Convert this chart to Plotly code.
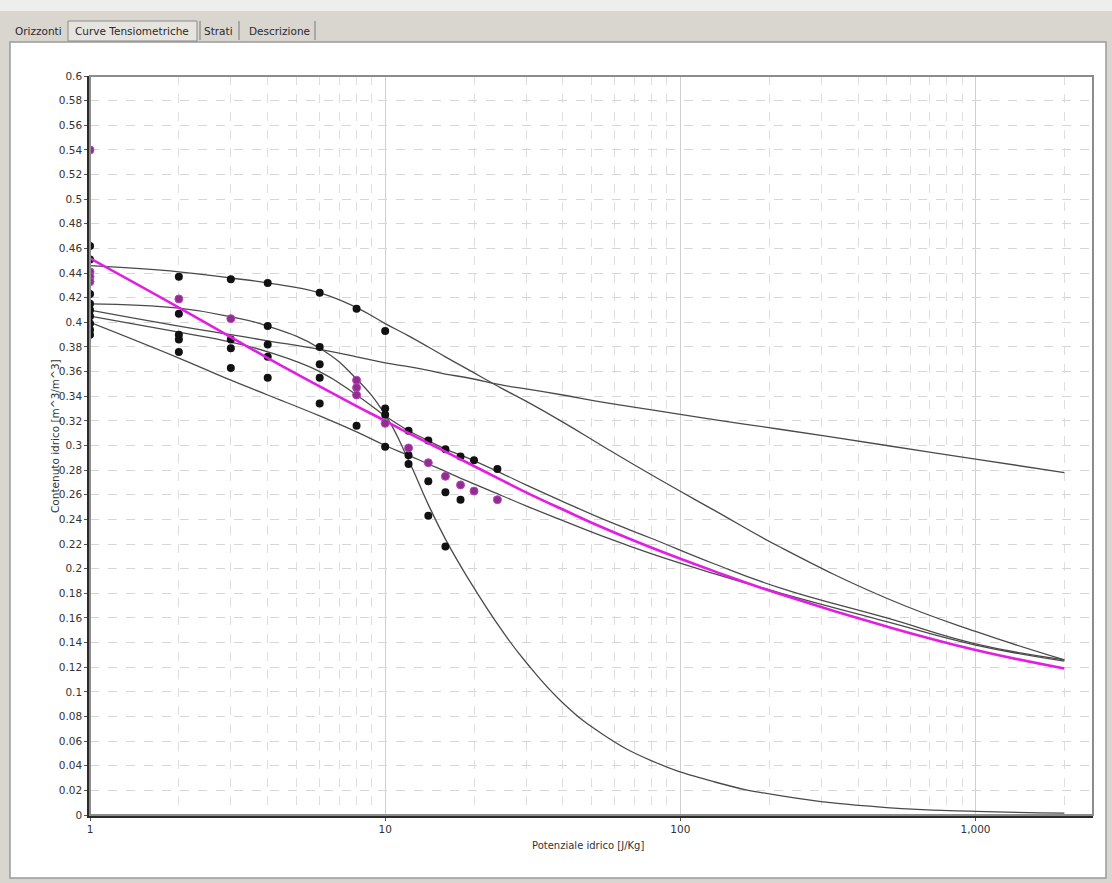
import plotly.graph_objects as go

# ---------------- data ----------------
curve_x = [1, 2, 3, 4, 6, 8, 10, 12, 14, 16, 19, 25, 30, 40, 55, 80, 130, 220, 500, 1000, 2000]
curve_a = [0.446, 0.441, 0.436, 0.432, 0.424, 0.412, 0.399, 0.389, 0.380, 0.372, 0.362, 0.346, 0.336, 0.319, 0.299, 0.276, 0.2475, 0.217, 0.176, 0.149, 0.126]
curve_b = [0.410, 0.397, 0.390, 0.385, 0.378, 0.372, 0.367, 0.364, 0.361, 0.358, 0.355, 0.349, 0.346, 0.341, 0.335, 0.329, 0.321, 0.313, 0.300, 0.289, 0.278]
curve_c = [0.415, 0.4115, 0.4045, 0.397, 0.379, 0.354, 0.325, 0.288, 0.252, 0.224, 0.193, 0.149, 0.124, 0.091, 0.065, 0.044, 0.027, 0.0155, 0.006, 0.003, 0.0015]
curve_d = [0.400, 0.371, 0.353, 0.341, 0.324, 0.311, 0.300, 0.292, 0.285, 0.279, 0.271, 0.259, 0.251, 0.239, 0.226, 0.212, 0.196, 0.180, 0.157, 0.138, 0.125]
curve_e = [0.405, 0.392, 0.384, 0.376, 0.360, 0.341, 0.324, 0.312, 0.304, 0.297, 0.290, 0.277, 0.268, 0.2545, 0.240, 0.2245, 0.204, 0.184, 0.160, 0.139, 0.126]
curve_m = [0.452, 0.412, 0.388, 0.371, 0.348, 0.332, 0.320, 0.310, 0.302, 0.295, 0.286, 0.2715, 0.262, 0.248, 0.233, 0.217, 0.198, 0.179, 0.153, 0.134, 0.119]

black_x = [1, 1, 1, 1, 1, 1, 1, 1, 1,
           2, 2, 2, 2, 2,
           3, 3, 3, 3,
           4, 4, 4, 4, 4,
           6, 6, 6, 6, 6,
           8, 8,
           10, 10, 10, 10,
           12, 12, 12,
           14, 14, 14,
           16, 16, 16,
           18, 18,
           20, 24]
black_y = [0.462, 0.451, 0.423, 0.415, 0.410, 0.405, 0.399, 0.394, 0.390,
           0.437, 0.407, 0.390, 0.386, 0.376,
           0.435, 0.386, 0.379, 0.363,
           0.432, 0.397, 0.382, 0.372, 0.355,
           0.424, 0.380, 0.366, 0.355, 0.334,
           0.411, 0.316,
           0.393, 0.330, 0.325, 0.299,
           0.312, 0.292, 0.285,
           0.304, 0.271, 0.243,
           0.297, 0.262, 0.218,
           0.291, 0.256,
           0.288, 0.281]

purple_x = [1, 1, 1, 1, 2, 3, 8, 8, 8, 10, 12, 14, 16, 18, 20, 24]
purple_y = [0.540, 0.441, 0.437, 0.433, 0.419, 0.403, 0.353, 0.347, 0.341, 0.318, 0.298, 0.286, 0.275, 0.268, 0.263, 0.256]

y_ticks = [0, 0.02, 0.04, 0.06, 0.08, 0.1, 0.12, 0.14, 0.16, 0.18, 0.2, 0.22, 0.24, 0.26, 0.28,
           0.3, 0.32, 0.34, 0.36, 0.38, 0.4, 0.42, 0.44, 0.46, 0.48, 0.5, 0.52, 0.54, 0.56, 0.58, 0.6]
y_tick_text = ["0", "0.02", "0.04", "0.06", "0.08", "0.1", "0.12", "0.14", "0.16", "0.18", "0.2", "0.22",
               "0.24", "0.26", "0.28", "0.3", "0.32", "0.34", "0.36", "0.38", "0.4", "0.42", "0.44",
               "0.46", "0.48", "0.5", "0.52", "0.54", "0.56", "0.58", "0.6"]
x_ticks = [1, 10, 100, 1000]
x_tick_text = ["1", "10", "100", "1,000"]
x_minor = [m * d for d in (1, 10, 100, 1000) for m in (2, 3, 4, 5, 6, 7, 8, 9)]

tabs = ["Orizzonti", "Curve Tensiometriche", "Strati", "Descrizione"]

# ---------------- layout geometry (pixels) ----------------
W, H = 1112, 883
L, R, T, B = 90, 1093, 76, 815


def px(x):
    return (x - L) / (R - L)


def py(y):
    return (B - y) / (B - T)


FONT = "DejaVu Sans"

fig = go.Figure()

for cy in (curve_a, curve_b, curve_c, curve_d, curve_e):
    fig.add_trace(go.Scatter(x=curve_x, y=cy, mode="lines",
                             line=dict(color="#4a4a4a", width=1.3, shape="spline", smoothing=1.3),
                             hoverinfo="skip", showlegend=False))

fig.add_trace(go.Scatter(x=black_x, y=black_y, mode="markers",
                         marker=dict(color="#111111", size=8, line=dict(width=0)),
                         showlegend=False))

fig.add_trace(go.Scatter(x=curve_x, y=curve_m, mode="lines",
                         line=dict(color="#e11ee1", width=2.6, shape="spline", smoothing=1.3),
                         hoverinfo="skip", showlegend=False))

fig.add_trace(go.Scatter(x=purple_x, y=purple_y, mode="markers",
                         marker=dict(color="#8e2f8e", size=8, line=dict(width=1, color="#c040c0")),
                         showlegend=False))

shapes = []
# top window strip
shapes.append(dict(type="rect", xref="paper", yref="paper", x0=px(0), x1=px(W), y0=py(0), y1=py(11),
                   fillcolor="#eeeeec", line=dict(width=0), layer="below"))
shapes.append(dict(type="rect", xref="paper", yref="paper", x0=px(0), x1=px(W), y0=py(11), y1=py(42),
                   fillcolor="#d9d6d0", line=dict(width=0), layer="below"))
# panel
shapes.append(dict(type="rect", xref="paper", yref="paper", x0=px(10), x1=px(1106), y0=py(42), y1=py(878),
                   fillcolor="white", line=dict(color="#9a9a9a", width=1.5), layer="below"))
# selected tab box
shapes.append(dict(type="rect", xref="paper", yref="paper", x0=px(68), x1=px(197), y0=py(21), y1=py(41),
                   fillcolor="#e6e4df", line=dict(color="#8a8a8a", width=1), layer="below"))
# tab separators
for sx in (200, 239, 315):
    shapes.append(dict(type="line", xref="paper", yref="paper", x0=px(sx), x1=px(sx), y0=py(21), y1=py(40),
                       line=dict(color="#7a7a7a", width=1)))
# plot frame (grey right/top)
shapes.append(dict(type="rect", xref="paper", yref="paper", x0=0, x1=1, y0=0, y1=1,
                   line=dict(color="#8c8c8c", width=2)))

annotations = []
tab_pos = [38, 132, 218, 279]
for tx, label in zip(tab_pos, tabs):
    annotations.append(dict(x=px(tx), y=py(31), xref="paper", yref="paper", text=label, showarrow=False,
                            font=dict(family=FONT, size=10.5, color="#2a2a2a"), xanchor="center", yanchor="middle"))
annotations.append(dict(x=px(55), y=py(436), xref="paper", yref="paper",
                        text="Contenuto idrico [m^3/m^3]", textangle=-90, showarrow=False,
                        font=dict(family=FONT, size=10.5, color="#333333"), xanchor="center", yanchor="middle"))
annotations.append(dict(x=px(588), y=py(845), xref="paper", yref="paper",
                        text="Potenziale idrico [J/Kg]", showarrow=False,
                        font=dict(family=FONT, size=10, color="#333333"), xanchor="center", yanchor="middle"))

fig.update_layout(
    width=W, height=H,
    margin=dict(l=L, r=W - R, t=T, b=H - B, pad=0),
    paper_bgcolor="#d9d6d0", plot_bgcolor="white",
    shapes=shapes, annotations=annotations,
    showlegend=False,
    font=dict(family=FONT, size=10, color="#333333"),
)

fig.update_xaxes(
    type="log", range=[0, 3.398],
    tickvals=x_ticks, ticktext=x_tick_text, ticks="outside", ticklen=3, tickcolor="#555",
    showgrid=True, gridcolor="#cfcfcf", gridwidth=1,
    minor=dict(tickvals=x_minor, showgrid=True, gridcolor="#dedede", griddash="dash", gridwidth=1, ticks=""),
    showline=True, linecolor="#2a2a2a", linewidth=2.5,
    tickfont=dict(family=FONT, size=10.5, color="#333333"),
    zeroline=False,
)
fig.update_yaxes(
    range=[0, 0.6],
    tickvals=y_ticks, ticktext=y_tick_text, ticks="outside", ticklen=3, tickcolor="#555",
    showgrid=True, gridcolor="#d6d6d6", griddash="dash", gridwidth=1,
    showline=True, linecolor="#2a2a2a", linewidth=2.5,
    tickfont=dict(family=FONT, size=10.5, color="#333333"),
    zeroline=False,
)

fig.write_html("out.html", config={"displayModeBar": False},
               post_script="document.body.style.margin='0px';document.body.style.overflow='hidden';")
